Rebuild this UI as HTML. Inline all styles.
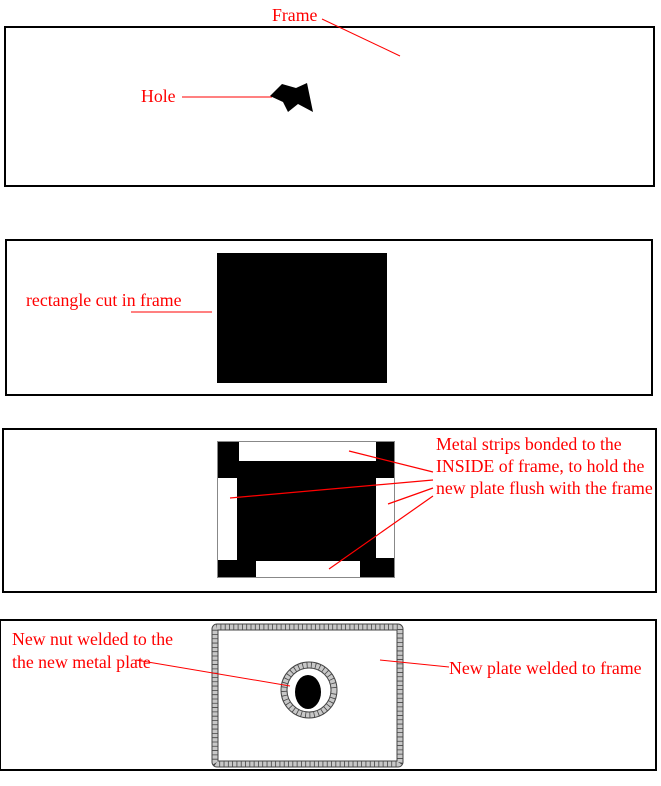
<!DOCTYPE html>
<html><head><meta charset="utf-8"><style>body{margin:0;background:#fff}svg{display:block}text{font-family:"Liberation Serif",serif;font-size:17.8px;fill:#f00}</style></head><body>
<svg width="661" height="786" xmlns="http://www.w3.org/2000/svg">
<rect x="5" y="27" width="649" height="159" fill="none" stroke="#000" stroke-width="2"/>
<text x="272" y="21">Frame</text>
<line x1="322" y1="19" x2="400" y2="56" stroke="#f00"/>
<text x="141" y="102">Hole</text>
<line x1="182" y1="97" x2="272" y2="97" stroke="#f00"/>
<polygon points="270,96 282,84 296,88 307,83 313,112 298,104 288,112 283,102" fill="#000"/>
<rect x="6" y="240" width="646" height="155" fill="none" stroke="#000" stroke-width="2"/>
<rect x="217" y="253" width="170" height="130" fill="#000"/>
<text x="26" y="306">rectangle cut in frame</text>
<line x1="131" y1="312" x2="212" y2="312" stroke="#f00"/>
<rect x="3" y="429" width="653" height="163" fill="none" stroke="#000" stroke-width="2"/>
<rect x="217" y="441" width="178" height="137" fill="#000"/>
<rect x="239" y="441" width="137" height="20" fill="#fff"/>
<rect x="217" y="478" width="20" height="82" fill="#fff"/>
<rect x="376" y="478" width="18" height="80" fill="#fff"/>
<rect x="256" y="561" width="104" height="17" fill="#fff"/>
<rect x="217.5" y="441.5" width="177" height="136" fill="none" stroke="#888" stroke-width="1"/>
<g stroke="#f00" stroke-width="1.2">
<line x1="349" y1="451" x2="433" y2="472"/><line x1="230" y1="498" x2="433" y2="480"/>
<line x1="388" y1="504" x2="433" y2="488"/><line x1="329" y1="569" x2="433" y2="496"/></g>
<text x="436" y="450">Metal strips bonded to the</text>
<text x="436" y="472">INSIDE of frame, to hold the</text>
<text x="436" y="494">new plate flush with the frame</text>
<rect x="0" y="620" width="656" height="150" fill="none" stroke="#000" stroke-width="2"/>
<rect x="215" y="627" width="185" height="137" rx="2" fill="none" stroke="#444" stroke-width="7"/>
<rect x="215" y="627" width="185" height="137" rx="2" fill="none" stroke="#c8c8c8" stroke-width="5" stroke-dasharray="3.5 0.8"/>
<circle cx="309" cy="690" r="25" fill="none" stroke="#444" stroke-width="7"/>
<circle cx="309" cy="690" r="25" fill="none" stroke="#c8c8c8" stroke-width="5" stroke-dasharray="3.5 0.8"/>
<ellipse cx="308" cy="692" rx="13" ry="17" fill="#000"/>
<text x="12" y="645">New nut welded to the</text>
<text x="12" y="668">the new metal plate</text>
<line x1="136" y1="660" x2="290" y2="686" stroke="#f00"/>
<text x="449" y="674">New plate welded to frame</text>
<line x1="380" y1="660" x2="449" y2="667" stroke="#f00"/>
</svg>
</body></html>
